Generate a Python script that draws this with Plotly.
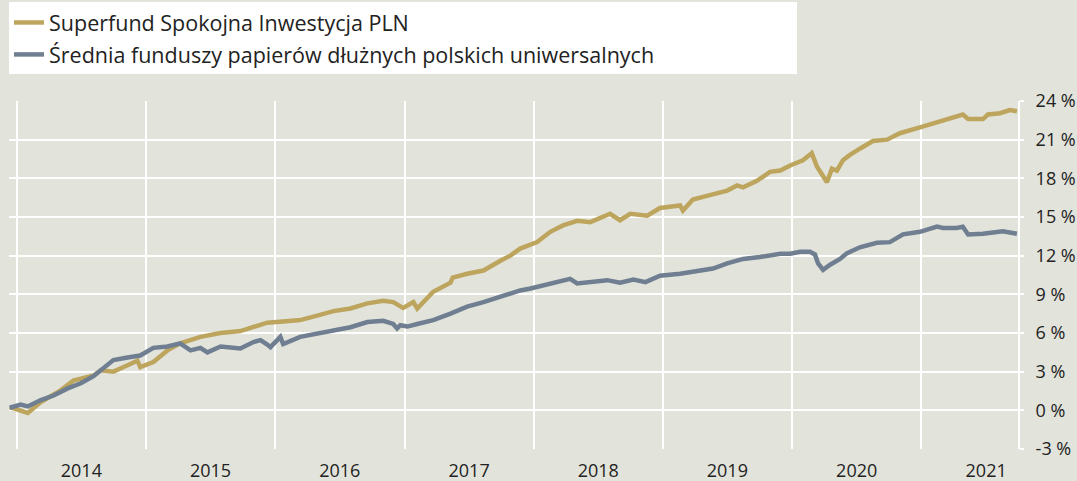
import plotly.graph_objects as go

# ---- data -------------------------------------------------------------
fund_name = "Superfund Spokojna Inwestycja PLN"
avg_name = "Średnia funduszy papierów dłużnych polskich uniwersalnych"

fund_dates = [
    "2013-12-12", "2014-02-01", "2014-03-10", "2014-05-05", "2014-06-10", "2014-08-06",
    "2014-08-26", "2014-10-01", "2014-10-21", "2014-11-27", "2014-12-08", "2014-12-16",
    "2015-01-22", "2015-03-03", "2015-04-08", "2015-06-04", "2015-07-31", "2015-09-25",
    "2015-11-21", "2015-12-10", "2016-01-24", "2016-03-12", "2016-04-29", "2016-06-14",
    "2016-08-01", "2016-09-18", "2016-11-02", "2016-11-30", "2016-12-28", "2017-01-26",
    "2017-02-06", "2017-03-23", "2017-05-11", "2017-05-17", "2017-06-27", "2017-08-12",
    "2017-09-29", "2017-10-27", "2017-11-24", "2017-12-03", "2018-01-11", "2018-02-17",
    "2018-03-25", "2018-05-04", "2018-06-10", "2018-08-05", "2018-09-02", "2018-10-01",
    "2018-11-18", "2018-12-24", "2019-02-19", "2019-02-27", "2019-03-27", "2019-05-14",
    "2019-07-02", "2019-07-30", "2019-08-16", "2019-09-24", "2019-10-31", "2019-11-29",
    "2019-12-27", "2020-02-01", "2020-02-26", "2020-03-12", "2020-03-29", "2020-04-09",
    "2020-04-23", "2020-05-07", "2020-05-24", "2020-06-12", "2020-07-11", "2020-08-17",
    "2020-09-26", "2020-11-01", "2020-12-28", "2021-02-14", "2021-04-11", "2021-04-28",
    "2021-05-13", "2021-06-24", "2021-07-08", "2021-08-11", "2021-09-08", "2021-09-28",
]
fund_values = [
    0.25, -0.2, 0.65, 1.55, 2.3, 2.7,
    3.1, 3.0, 3.25, 3.65, 3.85, 3.35,
    3.75, 4.65, 5.2, 5.7, 6.0, 6.15,
    6.6, 6.8, 6.9, 7.0, 7.35, 7.7,
    7.9, 8.3, 8.5, 8.4, 7.95, 8.4,
    7.9, 9.2, 9.9, 10.3, 10.6, 10.85,
    11.6, 12.0, 12.55, 12.65, 13.05, 13.85,
    14.35, 14.7, 14.6, 15.25, 14.75, 15.25,
    15.1, 15.7, 15.9, 15.5, 16.35, 16.7,
    17.05, 17.45, 17.3, 17.8, 18.5, 18.6,
    19.0, 19.4, 19.95, 18.9, 18.25, 17.7,
    18.75, 18.6, 19.4, 19.8, 20.3, 20.9,
    21.0, 21.5, 21.95, 22.35, 22.75, 22.95,
    22.6, 22.6, 22.95, 23.05, 23.3, 23.2,
]

avg_dates = [
    "2013-12-12", "2014-01-12", "2014-02-01", "2014-03-10", "2014-04-15", "2014-05-25",
    "2014-07-01", "2014-08-06", "2014-08-26", "2014-09-15", "2014-10-01", "2014-11-10",
    "2014-12-16", "2015-01-22", "2015-03-03", "2015-04-08", "2015-05-07", "2015-06-04",
    "2015-06-24", "2015-07-31", "2015-09-25", "2015-11-01", "2015-11-21", "2015-12-10",
    "2015-12-19", "2016-01-16", "2016-01-24", "2016-03-12", "2016-04-29", "2016-06-14",
    "2016-08-01", "2016-09-18", "2016-11-02", "2016-11-30", "2016-12-11", "2016-12-20",
    "2017-01-09", "2017-02-06", "2017-03-23", "2017-05-11", "2017-06-27", "2017-08-12",
    "2017-09-29", "2017-10-27", "2017-11-24", "2017-12-23", "2018-02-17", "2018-04-14",
    "2018-05-04", "2018-06-10", "2018-07-28", "2018-09-02", "2018-10-10", "2018-11-13",
    "2018-12-24", "2019-02-19", "2019-04-16", "2019-05-23", "2019-07-02", "2019-08-16",
    "2019-10-03", "2019-11-29", "2019-12-27", "2020-01-24", "2020-02-21", "2020-03-06",
    "2020-03-15", "2020-03-29", "2020-04-18", "2020-05-16", "2020-06-05", "2020-07-11",
    "2020-08-28", "2020-10-04", "2020-11-10", "2020-12-28", "2021-02-14", "2021-03-03",
    "2021-04-11", "2021-04-28", "2021-05-13", "2021-06-24", "2021-08-19", "2021-09-28",
]
avg_values = [
    0.2, 0.45, 0.3, 0.8, 1.15, 1.7,
    2.1, 2.65, 3.1, 3.6, 3.9, 4.1,
    4.25, 4.85, 4.95, 5.2, 4.65, 4.85,
    4.5, 4.95, 4.8, 5.3, 5.45, 5.1,
    4.9, 5.7, 5.15, 5.7, 5.95, 6.2,
    6.45, 6.85, 6.95, 6.7, 6.35, 6.6,
    6.5, 6.7, 7.0, 7.5, 8.05, 8.4,
    8.8, 9.05, 9.3, 9.45, 9.85, 10.2,
    9.85, 9.95, 10.1, 9.9, 10.15, 9.95,
    10.45, 10.6, 10.85, 11.0, 11.4, 11.75,
    11.9, 12.15, 12.15, 12.3, 12.3, 12.1,
    11.4, 10.9, 11.3, 11.75, 12.2, 12.65,
    13.0, 13.05, 13.65, 13.85, 14.25, 14.15,
    14.15, 14.25, 13.65, 13.7, 13.9, 13.7,
]

y_tick_vals = [-3, 0, 3, 6, 9, 12, 15, 18, 21, 24]
y_tick_text = ["-3 %", "0 %", "3 %", "6 %", "9 %", "12 %", "15 %", "18 %", "21 %", "24 %"]
x_range = ["2013-12-10", "2021-10-01"]

# ---- style ------------------------------------------------------------
GOLD = "#bea55e"
SLATE = "#6f7e91"
BG = "#e2e4dc"
FONT = "'Open Sans', Lato, sans-serif"
TXT = "#222222"

fig = go.Figure()
fig.add_trace(go.Scatter(
    x=fund_dates, y=fund_values, name=fund_name, mode="lines",
    line=dict(color=GOLD, width=4.5), legendgroup="a",
))
fig.add_trace(go.Scatter(
    x=avg_dates, y=avg_values, name=avg_name, mode="lines",
    line=dict(color=SLATE, width=4.5), legendgroup="b",
))

# white legend panel
fig.add_shape(type="rect", xref="paper", yref="paper",
              x0=0, x1=0.781, y0=1.0776, y1=1.2845,
              fillcolor="white", line=dict(width=0), layer="below")

fig.update_layout(
    width=1077, height=481,
    paper_bgcolor=BG, plot_bgcolor=BG,
    margin=dict(l=9, r=59, t=101, b=32, autoexpand=False),
    font=dict(family=FONT, size=19, color=TXT),
    showlegend=True,
    legend=dict(x=0, y=1.2845, xanchor="left", yanchor="top",
                bgcolor="rgba(0,0,0,0)", font=dict(size=21.5, color=TXT),
                tracegroupgap=1, itemwidth=30),
    xaxis=dict(
        type="date", range=x_range, automargin=False,
        tick0="2014-01-01", dtick="M12", tickformat="%Y",
        ticklabelmode="period",
        showgrid=True, gridcolor="white", gridwidth=2,
        zeroline=False, showline=False, ticks="",
        ticklabelstandoff=9,
        tickfont=dict(size=18, color=TXT),
    ),
    yaxis=dict(
        side="right", range=[-3, 24], automargin=False,
        tickvals=y_tick_vals, ticktext=y_tick_text,
        showgrid=True, gridcolor="white", gridwidth=2,
        zeroline=False,
        showline=True, linecolor="white", linewidth=2,
        ticks="outside", ticklen=4, tickcolor="white", tickwidth=2,
        ticklabelstandoff=8,
        tickfont=dict(size=18, color=TXT),
    ),
)

fig.write_html("out.html",
               config={"displayModeBar": False},
               post_script="document.body.style.margin='0';document.body.style.overflow='hidden';")
